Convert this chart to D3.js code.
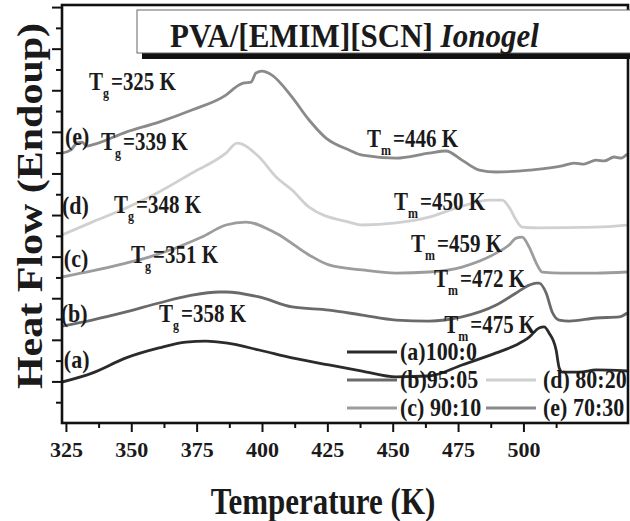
<!DOCTYPE html>
<html>
<head>
<meta charset="utf-8">
<script src="https://cdn.jsdelivr.net/npm/d3@7"></script>
<style>
  body { margin: 0; background: #fff; }
  svg { display: block; }
  text { font-family: "Liberation Serif", "Times New Roman", serif; font-weight: bold; fill: #1a1a1a; }
</style>
</head>
<body>
<div class="container"></div>
<script>
// DSC traces, temperature (K) vs heat flow (a.u., stacked)
const seriesA = [[323.5,1.97],[335.0,2.40],[348.0,3.13],[360.6,3.61],[370.9,3.89],[378.6,3.94],[386.2,3.85],
  [398.9,3.51],[411.5,3.13],[425.6,2.79],[438.3,2.50],[451.3,2.22],[463.9,2.26],[476.5,2.79],[489.6,3.37],
  [497.2,3.75],[502.2,4.13],[506.0,4.57],[507.9,4.62],[509.8,4.33],[512.5,3.51],[513.7,2.64],[514.8,2.45],
  [521.3,2.45],[527.8,2.55],[539.7,2.50]];
const seriesB = [[323.5,4.66],[335.0,4.95],[348.0,5.34],[360.6,5.77],[373.2,6.15],[383.6,6.30],[386.2,6.30],
  [398.9,6.06],[411.5,5.58],[425.6,5.43],[438.3,5.19],[451.3,4.95],[463.9,4.90],[476.5,5.10],[489.6,5.67],
  [497.2,6.25],[502.2,6.63],[504.9,6.73],[506.0,6.73],[508.7,6.25],[511.0,5.34],[513.7,4.95],[517.5,4.90],
  [527.8,5.05],[536.6,5.10],[539.7,5.29]];
const seriesC = [[323.5,7.02],[335.0,7.31],[348.0,7.69],[356.8,7.98],[377.0,8.94],[386.2,9.52],[393.9,9.66],
  [405.4,9.13],[418.0,8.08],[425.6,7.60],[438.3,7.36],[451.3,7.21],[463.9,7.26],[476.5,7.50],[489.6,8.17],
  [494.5,8.56],[497.2,8.89],[499.5,8.94],[502.2,8.46],[504.9,7.69],[507.2,7.26],[514.8,7.21],[527.8,7.21],
  [539.7,7.26]];
const seriesD = [[323.5,9.04],[335.0,9.66],[348.0,10.34],[360.6,11.11],[373.2,12.02],[386.2,12.98],[390.5,13.46],
  [398.9,12.79],[405.4,11.83],[411.5,11.20],[418.0,10.38],[433.3,9.66],[438.3,9.52],[451.3,9.62],[463.9,9.90],
  [475.4,10.38],[486.9,10.72],[491.9,10.72],[494.5,10.38],[497.2,9.76],[499.5,9.42],[506.0,9.38],[527.8,9.42],
  [539.7,9.52]];
const seriesE = [[323.5,12.98],[326.9,13.13],[329.2,13.46],[331.1,13.51],[333.0,13.32],[335.0,13.37],[348.0,13.99],
  [360.6,14.47],[373.2,15.05],[386.2,15.77],[391.2,16.25],[393.1,16.35],[395.8,16.39],[397.7,16.83],[400.0,16.92],
  [403.8,16.73],[411.5,15.67],[418.0,14.57],[424.5,13.70],[433.3,13.13],[438.3,12.88],[451.3,12.74],[463.9,12.98],
  [470.4,13.08],[476.5,12.64],[483.1,12.16],[489.6,12.07],[502.2,12.16],[514.8,12.36],[519.4,12.50],[523.2,12.45],
  [527.8,12.64],[530.9,12.60],[534.7,12.79],[537.4,12.74],[539.7,12.93]];

const seriesKeys = ['a', 'b', 'c', 'd', 'e'];
const legendNames = ['(a)100:0', '(b)95:05', '(c) 90:10', '(d) 80:20', '(e) 70:30'];
const tgValues = ['358', '351', '348', '339', '325'];
const tmValues = ['475', '472', '459', '450', '446'];
const xTicks = [325, 350, 375, 400, 425, 450, 475, 500];
const xMinorTicks = [337.5, 362.5, 387.5, 412.5, 437.5, 462.5, 487.5, 512.5];

const width = 630;
const height = 521;
const colors = { a: '#2b2b2b', b: '#6a6a6a', c: '#9c9c9c', d: '#d0d0d0', e: '#8a8a8a' };
const allSeries = { a: seriesA, b: seriesB, c: seriesC, d: seriesD, e: seriesE };

const svg = d3.select('.container').append('svg')
  .attr('width', width).attr('height', height);

const x = d3.scaleLinear().domain([323.5, 540]).range([62, 628]);
const y = d3.scaleLinear().domain([0, 20.1]).range([423, 5]);

svg.append('clipPath').attr('id', 'plot-clip')
  .append('rect').attr('x', 62).attr('y', 5).attr('width', 566).attr('height', 418);

// stretched text helper (the source figure is a bit taller than wide)
function label(g, px, py, size, sy) {
  return g.append('text')
    .attr('transform', `translate(${px},${py}) scale(1,${sy})`)
    .style('font-size', size + 'px');
}

// curves
const line = d3.line().x(d => x(d[0])).y(d => y(d[1])).curve(d3.curveMonotoneX);
svg.append('g').attr('clip-path', 'url(#plot-clip)')
  .selectAll('path')
  .data(seriesKeys)
  .join('path')
  .attr('fill', 'none')
  .attr('stroke', k => colors[k])
  .attr('stroke-width', 2.8)
  .attr('stroke-linejoin', 'round')
  .attr('d', k => line(allSeries[k]));

// x axis
const xAxis = svg.append('g').attr('transform', `translate(0,${y(0)})`)
  .call(d3.axisBottom(x).tickValues(xTicks).tickSize(9).tickPadding(9).tickFormat(d3.format('d')));
xAxis.selectAll('text').style('font-size', '22px').attr('fill', '#1a1a1a');
svg.append('g').attr('transform', `translate(0,${y(0)})`)
  .call(d3.axisBottom(x).tickValues(xMinorTicks).tickSize(5).tickFormat(''));

// y axis (no labels)
const yAxis = svg.append('g').attr('transform', `translate(${x.range()[0]},0)`)
  .call(d3.axisLeft(y).tickValues(d3.range(1, 21)).tickSize(8).tickFormat(''));
yAxis.selectAll('.tick line').attr('x2', d => (d % 2 === 0 ? -10 : -6));

svg.selectAll('.domain').remove();
svg.selectAll('.tick line').attr('stroke', '#111').attr('stroke-width', 2);

// frame
svg.append('rect')
  .attr('x', 62).attr('y', 5).attr('width', 566).attr('height', 418)
  .attr('fill', 'none').attr('stroke', '#111').attr('stroke-width', 2.6);

// title box
svg.append('rect').attr('x', 142).attr('y', 15).attr('width', 500).attr('height', 44).attr('fill', '#111');
svg.append('rect').attr('x', 137).attr('y', 10).attr('width', 500).attr('height', 43)
  .attr('fill', '#fff').attr('stroke', '#666').attr('stroke-width', 1);
const title = label(svg, 170, 47, 31, 1.12);
title.append('tspan').text('PVA/[EMIM][SCN] ');
title.append('tspan').style('font-style', 'italic').text('Ionogel');

// sample letters next to each curve
const letterPos = { a: [324.2, 2.64], b: [323.0, 4.86], c: [324.2, 7.5], d: [323.5, 10.05], e: [324.6, 13.37] };
seriesKeys.forEach(k => {
  label(svg, x(letterPos[k][0]), y(letterPos[k][1]), 22, 1.15).text(`(${k})`);
});

// Tg and Tm annotations
const tgPos = [[360.6, 4.86], [349.9, 7.69], [343.4, 10.10], [338.4, 13.13], [333.8, 16.01]];
const tmPos = [[469.7, 4.33], [465.8, 6.54], [457.0, 8.22], [450.5, 10.24], [440.2, 13.27]];
function subLabel(pos, sub, value) {
  const t = label(svg, x(pos[0]), y(pos[1]), 21, 1.15);
  t.append('tspan').text('T');
  t.append('tspan').attr('dy', 7).style('font-size', '12px').text(sub);
  t.append('tspan').attr('dy', -7).attr('dx', 2).text(`=${value} K`);
}
tgValues.forEach((v, i) => subLabel(tgPos[i], 'g', v));
tmValues.forEach((v, i) => subLabel(tmPos[i], 'm', v));

// legend
const legendCells = [
  { k: 'a', col: 0, row: 0 }, { k: 'b', col: 0, row: 1 }, { k: 'c', col: 0, row: 2 },
  { k: 'd', col: 1, row: 1 }, { k: 'e', col: 1, row: 2 }
];
const legend = svg.append('g').attr('class', 'legend');
legendCells.forEach(c => {
  const lx = c.col === 0 ? 347 : 486;
  const ly = 352 + c.row * 28;
  legend.append('line')
    .attr('x1', lx).attr('x2', lx + 50).attr('y1', ly).attr('y2', ly)
    .attr('stroke', colors[c.k]).attr('stroke-width', 2.8);
  label(legend, lx + (c.col === 0 ? 53 : 57), ly + 8, 22, 1.12)
    .text(legendNames[seriesKeys.indexOf(c.k)]);
});

// axis titles
label(svg, 323, 514, 31, 1.2).attr('text-anchor', 'middle').text('Temperature (K)');
svg.append('text')
  .attr('transform', 'translate(42,206) scale(1,1.2) rotate(-90)')
  .attr('text-anchor', 'middle')
  .style('font-size', '35px')
  .text('Heat Flow (Endoup)');
</script>
</body>
</html>
